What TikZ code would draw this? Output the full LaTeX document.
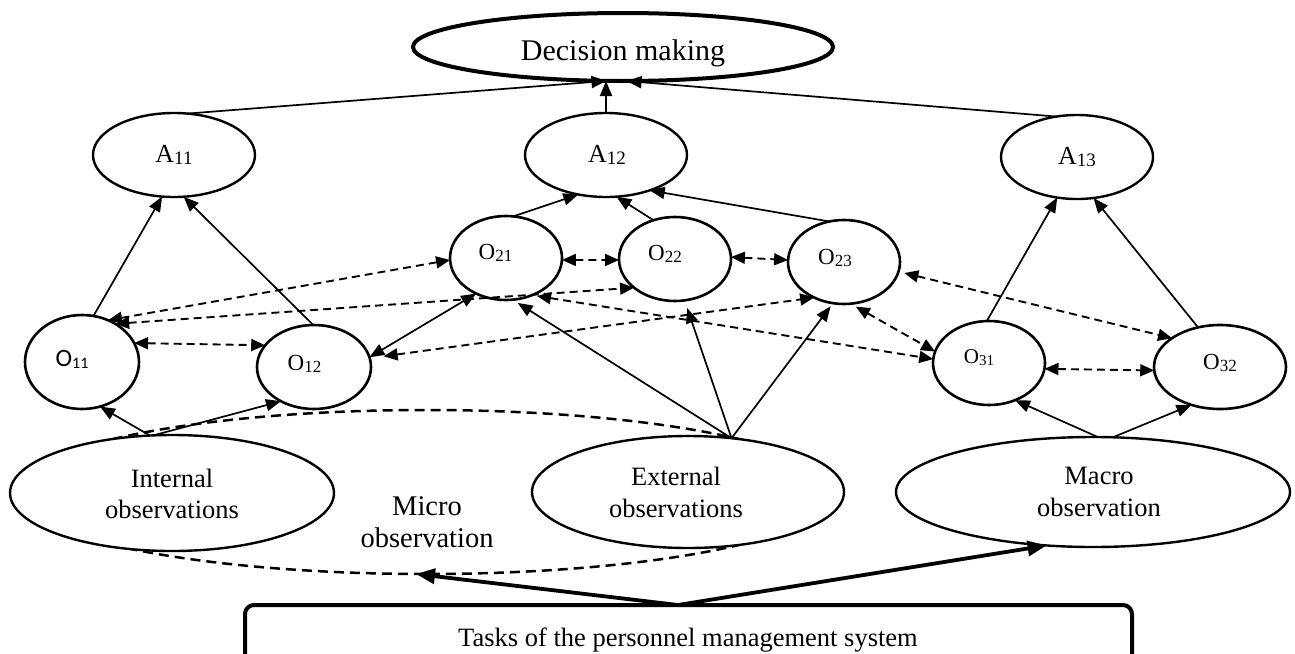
\documentclass[tikz,border=0pt]{standalone}
\usepackage{fontspec}
\setmainfont{Liberation Serif}
\newfontfamily\carlito{Carlito}
\usetikzlibrary{arrows.meta,shapes.geometric}
\newcommand{\mylab}[4]{{\fontsize{#1}{#1}\selectfont #2}{\fontsize{#3}{#3}\selectfont\raisebox{-2.5pt}{#4}}}
\begin{document}
\begin{tikzpicture}[x=1pt,y=-1pt,
  ell/.style={draw, ellipse, line width=2.4pt, fill=white, inner sep=0pt, outer sep=0pt},
  txt/.style={inner sep=0pt, anchor=base},
  mtxt/.style={inner sep=0pt, align=center, font=\fontsize{26.5}{32}\selectfont},
  arr/.style={line width=1.7pt, -{Triangle[length=15pt,width=12pt]}},
  darr/.style={line width=1.9pt, dash pattern=on 8pt off 5pt, {Triangle[length=14pt,width=12pt]}-{Triangle[length=14pt,width=12pt]}},
  barr/.style={line width=1.7pt, {Triangle[length=15pt,width=12pt]}-{Triangle[length=15pt,width=12pt]}},
  thk/.style={line width=3.8pt, -{Triangle[length=19pt,width=15pt]}},
]
\useasboundingbox (0,0) rectangle (1295,653);

% dashed micro ellipse (behind)
\node[draw, ellipse, line width=2.5pt, dash pattern=on 10pt off 6pt, inner sep=0pt, outer sep=0pt,
      minimum width=820pt, minimum height=164pt] (micro) at (426,492) {};

% nodes
\node[ell, line width=4pt, minimum width=420pt, minimum height=68pt] (dm) at (623,47) {};
\node[ell, minimum width=162pt, minimum height=84pt] (a11) at (174,155) {};
\node[ell, minimum width=162pt, minimum height=84pt] (a12) at (606,155) {};
\node[ell, minimum width=152pt, minimum height=84pt] (a13) at (1077,157) {};
\node[ell, line width=2.6pt, minimum width=114pt, minimum height=94pt] (o11) at (82,362) {};
\node[ell, line width=2.6pt, minimum width=114pt, minimum height=84pt] (o12) at (314,367) {};
\node[ell, line width=2.6pt, minimum width=112pt, minimum height=84pt] (o21) at (506,258) {};
\node[ell, line width=2.6pt, minimum width=112pt, minimum height=84pt] (o22) at (675,259) {};
\node[ell, line width=2.6pt, minimum width=112pt, minimum height=84pt] (o23) at (844,262) {};
\node[ell, line width=2.6pt, minimum width=112pt, minimum height=84pt] (o31) at (989,363) {};
\node[ell, line width=2.6pt, minimum width=132pt, minimum height=84pt] (o32) at (1220,367) {};
\node[ell, minimum width=324pt, minimum height=116pt] (int) at (172,493) {};
\node[ell, minimum width=312pt, minimum height=112pt] (ext) at (688,492) {};
\node[ell, minimum width=394pt, minimum height=110pt] (mac) at (1093,492) {};
\node[draw, rounded corners=9pt, line width=4pt, inner sep=0pt, outer sep=0pt,
      minimum width=887pt, minimum height=90pt] (tasks) at (688.5,650) {};
\coordinate (tk) at (678,605);

% texts
\node[txt] (tdm) at (623,60) {\fontsize{30}{30}\selectfont Decision making};
\node[txt] (ta11) at (174,162) {\mylab{26}{A}{19}{11}};
\node[txt] (ta12) at (607,162) {\mylab{26}{A}{19}{12}};
\node[txt] (ta13) at (1077,164) {\mylab{26}{A}{19}{13}};
\node[txt] (to11) at (72,366) {\carlito\mylab{25}{O}{16}{11}};
\node[txt] (to12) at (304.5,370) {\mylab{23}{O}{17}{12}};
\node[txt] (to21) at (495.5,259) {\mylab{23}{O}{17}{21}};
\node[txt] (to22) at (665,260) {\mylab{23}{O}{17}{22}};
\node[txt] (to23) at (835,264) {\mylab{23}{O}{17}{23}};
\node[txt] (to31) at (979,363) {\mylab{21}{O}{15}{31}};
\node[txt] (to32) at (1220,369) {\mylab{23}{O}{17}{32}};
\node[mtxt, font=\fontsize{26.5}{31}\selectfont] (tint) at (172,493.5) {Internal\\observations};
\node[mtxt] (text) at (676,492) {External\\observations};
\node[mtxt] (tmac) at (1099,492.4) {Macro\\observation};
\node[mtxt, font=\fontsize{28.5}{32}\selectfont] (tmic) at (427,522) {Micro\\observation};
\node[txt] (ttasks) at (688,646) {\fontsize{26.5}{26.5}\selectfont Tasks of the personnel management system};

% solid arrows upward
\draw[arr] (a11.72.8) -- (dm.244);
\draw[arr] (a12.north) -- (dm.south -| a12.north);
\draw[arr] (a13.117.6) -- (dm.276.5);
\draw[arr] (o11.76.8) -- (a11.254.4);
\draw[arr] (o12.91.3) -- (a11.283.1);
\draw[arr] (o21.80) -- (a12.235);
\draw[arr] (o22.119.7) -- (a12.284.7);
\draw[arr] (o23.110.6) -- (a12.321.5);
\draw[arr] (o31.93) -- (a13.244.6);
\draw[arr] (o32.119.6) -- (a13.292.3);
\draw[arr] (int.111.5) -- (o11.292);
\draw[arr] (int.108.7) -- (o12.226);
\draw[arr, shorten >=6pt] (ext.51) -- (o21.279);
\draw[arr, shorten >=8pt] (ext.51) -- (o22.283);
\draw[arr, shorten >=4pt] (ext.51) -- (o23.255.4);
\draw[arr] (mac.85) -- (o31.305.3);
\draw[arr] (mac.70.3) -- (o32.233.1);
\draw[barr] (o12.10) -- (o21.230.5);

% dashed double arrows
\draw[darr] (o11.58) -- (o21.182);
\draw[darr] (o11.49.4) -- (o22.215.3);
\draw[darr] (o11.20) -- (o12.156);
\draw[darr, shorten <=14pt] (o12.9) -- (o23.230);
\draw[darr] (o21.358) -- (o22.181);
\draw[darr] (o22.2) -- (o23.178);
\draw[darr, shorten <=5pt] (o21.305) -- (o31.176);
\draw[darr, shorten <=6pt] (o23.279) -- (o31.168);
\draw[darr, shorten <=6pt] (o23.350.8) -- (o32.149.7);
\draw[darr] (o31.354) -- (o32.183);

% thick arrows from tasks
\draw[thk] (tk) -- (micro.263.7);
\draw[thk] (tk) -- (mac.229);
\end{tikzpicture}
\end{document}
